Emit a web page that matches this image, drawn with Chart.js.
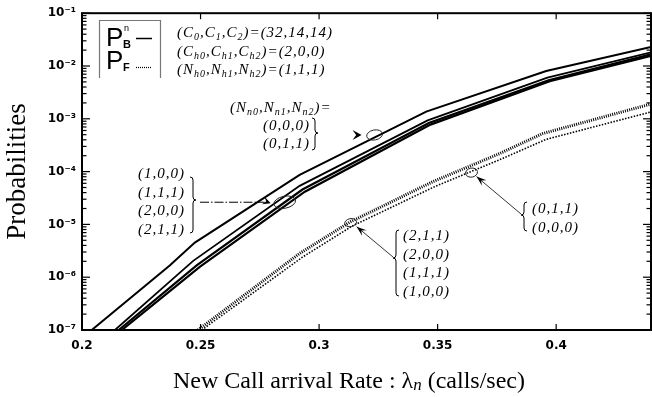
<!DOCTYPE html>
<html><head><meta charset="utf-8">
<script src="https://cdn.jsdelivr.net/npm/chart.js@4"></script>
<style>html,body{margin:0;padding:0;background:#fff;overflow:hidden}#wrap{width:652px;height:397px}</style>
</head><body><div id="wrap"><canvas id="c" width="652" height="397"></canvas></div>
<script>
// ---- tick labels ----
const xTicks = [0.2, 0.25, 0.3, 0.35, 0.4];
const xTickLabels = ['0.2', '0.25', '0.3', '0.35', '0.4'];
const yTicks = [1e-7, 1e-6, 1e-5, 1e-4, 1e-3, 1e-2, 1e-1];
const yTickLabels = ['10⁻⁷', '10⁻⁶', '10⁻⁵', '10⁻⁴', '10⁻³', '10⁻²', '10⁻¹'];

// ---- P_B^n : (Nn0,Nn1,Nn2) = (0,0,0),(0,1,1) ----
const lamBlockA = [0.2041, 0.237, 0.2476, 0.2918, 0.3452, 0.3958, 0.44];
const pbBlockA  = [1.0e-7, 1.66e-6, 4.53e-6, 8.7e-5, 1.37e-3, 8.05e-3, 2.3e-2];
// ---- P_B^n : (1,0,0),(1,1,1),(2,0,0),(2,1,1) ----
const lamBlockB1 = [0.2139, 0.2469, 0.2918, 0.3458, 0.3963, 0.44];
const pbBlockB1  = [1e-7, 2.04e-6, 5.37e-5, 9.33e-4, 6.03e-3, 1.82e-2];
const lamBlockB2 = [0.2155, 0.2485, 0.293, 0.3463, 0.3968, 0.44];
const pbBlockB2  = [1e-7, 1.70e-6, 4.57e-5, 8.32e-4, 5.37e-3, 1.66e-2];
const lamBlockB3 = [0.2168, 0.2498, 0.294, 0.347, 0.3973, 0.44];
const pbBlockB3  = [1e-7, 1.58e-6, 4.17e-5, 7.76e-4, 5.13e-3, 1.55e-2];
// ---- P_F ----
const lamDropA = [0.2489, 0.2918, 0.3129, 0.348, 0.3761, 0.3943, 0.44];
const pfDropA  = [1e-7, 2.82e-6, 1.10e-5, 6.46e-5, 2.19e-4, 5.25e-4, 1.91e-3];
const lamDropB = [0.2505, 0.293, 0.314, 0.349, 0.377, 0.3957, 0.44];
const pfDropB  = [1e-7, 2.40e-6, 9.33e-6, 5.25e-5, 1.74e-4, 4.07e-4, 1.35e-3];

// annotation anchor points (lambda, probability) on the curves
const markTop   = [0.3234, 4.94e-4];
const markLeft  = [0.2855, 2.63e-5];
const markRight = [0.3643, 9.57e-5];
const markLow   = [0.3133, 1.08e-5];

const pts = (xs, ys) => xs.map((v, i) => ({x: v, y: ys[i]}));
const solid = (xs, ys, w) => ({data: pts(xs, ys), borderColor: '#000', borderWidth: w, pointRadius: 0, tension: 0, fill: false});
const dotted = (xs, ys, w, dash) => ({data: pts(xs, ys), borderColor: '#000', borderWidth: w, borderDash: dash, borderCapStyle: 'butt', pointRadius: 0, tension: 0, fill: false});

const SERIF = '"Liberation Serif", "Times New Roman", serif';
const SANS = '"Liberation Sans", Arial, sans-serif';

function line(ctx, x1, y1, x2, y2) { ctx.beginPath(); ctx.moveTo(x1, y1); ctx.lineTo(x2, y2); ctx.stroke(); }

function rich(ctx, x, y, parts, size, italic) {
  let cx = x;
  for (const p of parts) {
    const t = typeof p === 'string' ? p : p[0];
    const sub = typeof p !== 'string';
    const s = sub ? Math.round(size * 0.68) : size;
    ctx.font = `${italic ? 'italic ' : ''}${s}px ${SERIF}`;
    ctx.fillText(t, cx, y + (sub ? size * 0.2 : 0));
    cx += ctx.measureText(t).width;
  }
  return cx - x;
}

function brace(ctx, x, y1, y2, ym, dir) {
  const d = 3 * dir;
  ctx.beginPath();
  ctx.moveTo(x - d, y1);
  ctx.quadraticCurveTo(x, y1, x, y1 + 3);
  ctx.lineTo(x, ym - 3);
  ctx.quadraticCurveTo(x, ym, x + d, ym);
  ctx.quadraticCurveTo(x, ym, x, ym + 3);
  ctx.lineTo(x, y2 - 3);
  ctx.quadraticCurveTo(x, y2, x - d, y2);
  ctx.stroke();
}

function arrowHead(ctx, tx, ty, ang, len, half) {
  ctx.save();
  ctx.translate(tx, ty); ctx.rotate(ang);
  ctx.beginPath();
  ctx.moveTo(0, 0);
  ctx.lineTo(-len, -half);
  ctx.lineTo(-len * 0.6, 0);
  ctx.lineTo(-len, half);
  ctx.closePath();
  ctx.fill();
  ctx.restore();
}

const decor = {
  id: 'decor',
  afterDraw(chart) {
    const {ctx, chartArea: a, scales: {x, y}} = chart;
    ctx.save();
    ctx.fillStyle = '#000'; ctx.strokeStyle = '#000';
    // frame
    ctx.lineWidth = 2;
    ctx.strokeRect(a.left, a.top, a.right - a.left, a.bottom - a.top);
    // ticks (inward)
    ctx.lineWidth = 1.2;
    yTicks.forEach(v => { const py = y.getPixelForValue(v); line(ctx, a.left, py, a.left + 8, py); line(ctx, a.right, py, a.right - 8, py); });
    for (let e = -7; e < -1; e++) for (let k = 2; k < 10; k++) {
      const py = y.getPixelForValue(k * Math.pow(10, e));
      line(ctx, a.left, py, a.left + 4.5, py); line(ctx, a.right, py, a.right - 4.5, py);
    }
    xTicks.forEach(v => { const px = x.getPixelForValue(v); line(ctx, px, a.bottom, px, a.bottom - 6); line(ctx, px, a.top, px, a.top + 6); });

    // legend box
    ctx.strokeStyle = '#777'; ctx.lineWidth = 1.2;
    ctx.beginPath(); ctx.moveTo(99.5, 78); ctx.lineTo(99.5, 20.5); ctx.lineTo(160.5, 20.5); ctx.lineTo(160.5, 78); ctx.stroke();
    ctx.strokeStyle = '#000'; ctx.fillStyle = '#000';
    ctx.textBaseline = 'alphabetic'; ctx.textAlign = 'left';
    ctx.font = `26px ${SANS}`;
    ctx.fillText('P', 106, 46); ctx.fillText('P', 106, 69);
    ctx.font = `bold 11px ${SANS}`;
    ctx.fillText('B', 123, 48); ctx.fillText('F', 123, 71);
    ctx.font = `9px ${SANS}`;
    ctx.fillText('n', 124, 31);
    ctx.lineWidth = 1.5;
    line(ctx, 136, 38.5, 152, 38.5);
    ctx.setLineDash([1, 1]); ctx.lineWidth = 1.2;
    line(ctx, 136, 67.5, 151, 67.5);
    ctx.setLineDash([]);

    // annotation texts
    ctx.letterSpacing = '1px';
    const S = 15;
    rich(ctx, 177, 37, ['(C', ['0'], ',C', ['1'], ',C', ['2'], ')=(32,14,14)'], S, true);
    rich(ctx, 177, 56, ['(C', ['h0'], ',C', ['h1'], ',C', ['h2'], ')=(2,0,0)'], S, true);
    rich(ctx, 177, 74, ['(N', ['h0'], ',N', ['h1'], ',N', ['h2'], ')=(1,1,1)'], S, true);
    rich(ctx, 230, 112, ['(N', ['n0'], ',N', ['n1'], ',N', ['n2'], ')='], S, true);
    rich(ctx, 263, 130, ['(0,0,0)'], S, true);
    rich(ctx, 263, 148, ['(0,1,1)'], S, true);
    ['(1,0,0)', '(1,1,1)', '(2,0,0)', '(2,1,1)'].forEach((t, i) => rich(ctx, 138, 178 + i * 18.7, [t], S, true));
    ['(0,1,1)', '(0,0,0)'].forEach((t, i) => rich(ctx, 532, 213 + i * 19, [t], S, true));
    ['(2,1,1)', '(2,0,0)', '(1,1,1)', '(1,0,0)'].forEach((t, i) => rich(ctx, 403, 240 + i * 18.5, [t], S, true));
    ctx.letterSpacing = '0px';

    // braces
    ctx.lineWidth = 1;
    brace(ctx, 315, 118, 150, 133, 1);
    brace(ctx, 193, 177, 233, 200, 1);
    brace(ctx, 524, 202, 231, 215, -1);
    brace(ctx, 396, 230, 296, 258, -1);

    // ellipses around marked curves
    const P = m => [x.getPixelForValue(m[0]), y.getPixelForValue(m[1])];
    const [e1x, e1y] = P(markTop), [e2x, e2y] = P(markLeft), [e3x, e3y] = P(markRight), [e4x, e4y] = P(markLow);
    ctx.strokeStyle = '#222'; ctx.lineWidth = 1;
    [[e1x, e1y, 8, 5], [e2x, e2y, 11, 6], [e3x, e3y, 6, 4.5], [e4x, e4y, 6, 4]].forEach(([cx, cy, rx, ry]) => {
      ctx.beginPath(); ctx.ellipse(cx, cy, rx, ry, -0.2, 0, Math.PI * 2); ctx.stroke();
    });

    // arrows / leaders
    ctx.fillStyle = '#000'; ctx.strokeStyle = '#000';
    arrowHead(ctx, e1x - 13, e1y, 0, 9, 5);
    ctx.lineWidth = 1; ctx.setLineDash([9, 2, 1.5, 2]);
    line(ctx, 200, e2y, e2x - 20, e2y);
    ctx.setLineDash([]);
    arrowHead(ctx, e2x - 14, e2y + 1, 0.35, 8, 4);
    ctx.lineWidth = 0.8;
    const t3x = e3x + 5, t3y = e3y + 4;
    line(ctx, 521, 214, t3x, t3y);
    arrowHead(ctx, t3x, t3y, Math.atan2(t3y - 214, t3x - 521), 10, 3.5);
    const t4x = e4x + 6, t4y = e4y + 4;
    line(ctx, 393, 257, t4x, t4y);
    arrowHead(ctx, t4x, t4y, Math.atan2(t4y - 257, t4x - 393), 10, 3.5);

    // x-axis title
    ctx.fillStyle = '#000';
    const TS = 24;
    const measure = (t, f) => { ctx.font = f; return ctx.measureText(t).width; };
    const fN = `${TS}px ${SERIF}`, fI = `italic ${Math.round(TS * 0.72)}px ${SERIF}`;
    const w1 = measure('New Call arrival Rate : λ', fN), w2 = measure('n', fI), w3 = measure(' (calls/sec)', fN);
    let sx = 349 - (w1 + w2 + w3) / 2;
    ctx.font = fN; ctx.fillText('New Call arrival Rate : λ', sx, 388);
    ctx.font = fI; ctx.fillText('n', sx + w1, 390);
    ctx.font = fN; ctx.fillText(' (calls/sec)', sx + w1 + w2, 388);
    ctx.restore();
  }
};

const tickFont = {family: '"DejaVu Sans", sans-serif', size: 12, weight: 'bold'};

new Chart(document.getElementById('c'), {
  type: 'line',
  data: {
    datasets: [
      solid(lamBlockA, pbBlockA, 2),
      solid(lamBlockB1, pbBlockB1, 1.8),
      solid(lamBlockB2, pbBlockB2, 2.2),
      solid(lamBlockB3, pbBlockB3, 2.2),
      dotted(lamDropA, pfDropA, 3, [1, 1.2]),
      dotted(lamDropB, pfDropB, 1.6, [1.5, 1.5])
    ]
  },
  options: {
    responsive: false, animation: false,
    layout: {padding: {top: 10, right: 1, left: 0, bottom: 0}},
    plugins: {legend: {display: false}, tooltip: {enabled: false}},
    scales: {
      x: {
        type: 'linear', min: 0.2, max: 0.44,
        afterBuildTicks: s => { s.ticks = xTicks.map(v => ({value: v})); },
        afterFit: s => { s.height = 67; },
        grid: {display: false, drawTicks: false}, border: {display: false},
        ticks: {autoSkip: false, maxRotation: 0, padding: 9, color: '#000', font: tickFont, callback: (v, i) => xTickLabels[i]}
      },
      y: {
        type: 'logarithmic', min: 1e-7, max: 1e-1,
        afterBuildTicks: s => { s.ticks = yTicks.map(v => ({value: v})); },
        afterFit: s => { s.width = 82; },
        grid: {display: false, drawTicks: false}, border: {display: false},
        ticks: {autoSkip: false, padding: 6, color: '#000', font: tickFont, callback: (v, i) => yTickLabels[i]},
        title: {display: true, text: 'Probabilities', color: '#000', font: {family: SERIF, size: 27}, padding: {top: 2, bottom: 0}}
      }
    }
  },
  plugins: [decor]
});
</script>
</body></html>
